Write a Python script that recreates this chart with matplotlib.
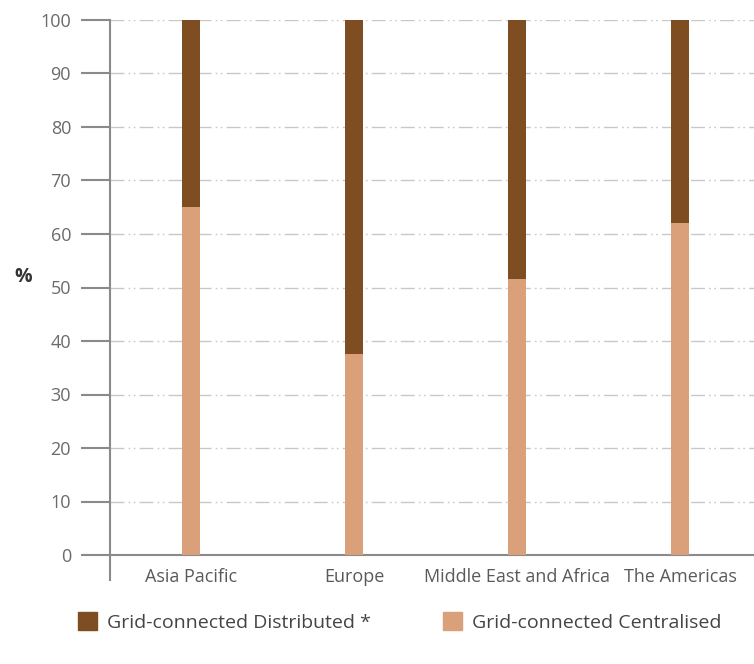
import matplotlib.pyplot as plt
from matplotlib.patches import Patch

# Part des installations raccordées au réseau, par région (%)
regions = ["Asia Pacific", "Europe", "Middle East and Africa", "The Americas"]
centralised = [65, 37.5, 51.5, 62]
distributed = [100 - c for c in centralised]

couleur_fonce = "#7f4d22"
couleur_clair = "#d9a07a"
gris = "#8a8a8a"

plt.rcParams["font.family"] = ["Open Sans", "DejaVu Sans"]

fig = plt.figure(figsize=(7.54, 6.64), dpi=100)
ax = fig.add_axes([110 / 754, 1 - 555 / 664, 1 - 110 / 754, (555 - 20) / 664])

x = list(range(len(regions)))
ax.bar(x, centralised, width=0.11, color=couleur_clair, zorder=3)
ax.bar(x, distributed, width=0.11, bottom=centralised, color=couleur_fonce, zorder=3)

ax.set_xlim(-0.497, 3.454)
ax.set_ylim(0, 100)
ax.set_yticks(range(0, 101, 10))
ax.set_xticks(x)
ax.set_xticklabels(regions)

# grille en tirets-points
for v in range(10, 101, 10):
    ax.axhline(v, color="#c8c8c8", lw=1, ls=(0, (10, 3, 1.2, 2.5, 1.2, 3)), zorder=1)

for s in ["top", "right"]:
    ax.spines[s].set_visible(False)
ax.spines["left"].set_color(gris)
ax.spines["left"].set_linewidth(1.5)
ax.spines["left"].set_bounds(-4.7, 100)
ax.spines["bottom"].set_color(gris)
ax.spines["bottom"].set_linewidth(1.5)

ax.tick_params(axis="y", length=21, width=1.5, color=gris, pad=7,
               labelsize=13, labelcolor="#6b6b6b")
ax.tick_params(axis="x", length=0, pad=9, labelsize=13, labelcolor="#5a5a5a")

ax.set_ylabel("%", rotation=0, fontsize=14, color="#333333", fontweight="bold")
ax.yaxis.set_label_coords(-0.135, 0.5)

handles = [Patch(color=couleur_fonce, label="Grid-connected Distributed *"),
           Patch(color=couleur_clair, label="Grid-connected Centralised")]
fig.legend(handles=handles, loc="center left", bbox_to_anchor=(0.08, 0.063),
           ncol=2, frameon=False, fontsize=14, labelcolor="#444444",
           handlelength=1.0, handleheight=1.0, handletextpad=0.5,
           columnspacing=3.7)

fig.savefig("out.png", dpi=100)
